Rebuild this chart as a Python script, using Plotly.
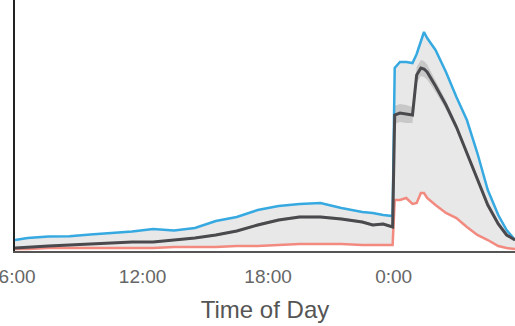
import plotly.graph_objects as go

# Time of day in hours (24+ = next day)
hours = [5.9, 6.5, 7.5, 8.5, 9.5, 10.5, 11.5, 12.5, 13.5, 14.5, 15.5, 16.5, 17.5,
         18.5, 19.5, 20.5, 21.5, 22.5, 23.0, 23.5, 23.95,
         24.05, 24.3, 24.6, 24.9, 25.1, 25.3, 25.45, 25.6, 26.0, 26.5, 27.0, 27.5,
         28.0, 28.5, 29.0, 29.4, 29.8]

upper = [0.55, 0.65, 0.72, 0.74, 0.82, 0.88, 0.97, 1.10, 1.02, 1.15, 1.50, 1.70, 2.05,
         2.25, 2.35, 2.40, 2.15, 1.95, 1.90, 1.80, 1.75,
         9.15, 9.45, 9.45, 9.40, 9.85, 10.55, 10.95, 10.65, 10.05, 8.95, 7.70, 6.55,
         4.90, 3.05, 1.80, 1.05, 0.55]

mean = [0.15, 0.20, 0.25, 0.30, 0.35, 0.40, 0.45, 0.45, 0.55, 0.65, 0.80, 1.00, 1.30,
        1.55, 1.70, 1.70, 1.60, 1.45, 1.30, 1.35, 1.20,
        6.80, 6.90, 6.85, 6.80, 8.80, 9.15, 9.10, 8.95, 8.25, 7.30, 6.20, 4.90,
        3.60, 2.30, 1.35, 0.80, 0.55]

lower = [0.10, 0.10, 0.15, 0.15, 0.15, 0.15, 0.15, 0.15, 0.20, 0.20, 0.20, 0.25, 0.25,
         0.30, 0.35, 0.35, 0.35, 0.30, 0.30, 0.30, 0.30,
         2.55, 2.55, 2.65, 2.35, 2.40, 2.90, 2.90, 2.65, 2.30, 1.90, 1.65, 1.20,
         0.80, 0.55, 0.25, 0.15, 0.10]

# half-width of the darker band around the mean
ci_half = [0.04, 0.04, 0.04, 0.04, 0.04, 0.04, 0.04, 0.05, 0.05, 0.05, 0.06, 0.06, 0.07,
           0.08, 0.08, 0.08, 0.08, 0.08, 0.08, 0.08, 0.08,
           0.45, 0.45, 0.45, 0.40, 0.40, 0.40, 0.40, 0.38, 0.30, 0.22, 0.18, 0.15,
           0.12, 0.10, 0.08, 0.05, 0.04]

tick_vals = [6, 12, 18, 24]
tick_text = ["6:00", "12:00", "18:00", "0:00"]

fig = go.Figure()
fig.add_trace(go.Scatter(x=hours, y=lower, mode="lines",
                         line=dict(color="rgba(0,0,0,0)", width=0), hoverinfo="skip"))
fig.add_trace(go.Scatter(x=hours, y=upper, mode="lines", fill="tonexty",
                         fillcolor="rgba(200,200,200,0.42)",
                         line=dict(color="rgba(0,0,0,0)", width=0), hoverinfo="skip"))
fig.add_trace(go.Scatter(x=hours, y=[m - c for m, c in zip(mean, ci_half)], mode="lines",
                         line=dict(color="rgba(0,0,0,0)", width=0), hoverinfo="skip"))
fig.add_trace(go.Scatter(x=hours, y=[m + c for m, c in zip(mean, ci_half)], mode="lines",
                         fill="tonexty", fillcolor="rgba(140,140,140,0.35)",
                         line=dict(color="rgba(0,0,0,0)", width=0), hoverinfo="skip"))
fig.add_trace(go.Scatter(x=hours, y=lower, mode="lines", line=dict(color="#f28a80", width=2.5)))
fig.add_trace(go.Scatter(x=hours, y=upper, mode="lines", line=dict(color="#36a9e1", width=2.5)))
fig.add_trace(go.Scatter(x=hours, y=mean, mode="lines", line=dict(color="#4a4a4e", width=3)))

fig.update_layout(
    width=515, height=326,
    margin=dict(l=15, r=0, t=0, b=75, pad=0, autoexpand=False),
    paper_bgcolor="white", plot_bgcolor="white",
    showlegend=False,
    font=dict(family="Liberation Sans", color="#555555"),
    xaxis=dict(range=[5.9, 29.8], tickvals=tick_vals, ticktext=tick_text,
               automargin=False, ticklabeloverflow="allow",
               showgrid=False, zeroline=False, showline=True, linecolor="#555555",
               linewidth=2, ticks="", tickfont=dict(size=19, color="#666666"),
               ticklabelstandoff=7,
               title=dict(text="Time of Day", font=dict(size=24, color="#555555"),
                          standoff=15)),
    yaxis=dict(range=[0, 12.55], automargin=False, showgrid=False, zeroline=False,
               showline=True, linecolor="#222222", linewidth=2,
               showticklabels=False, ticks=""),
)

fig.write_html("out.html", config={"displayModeBar": False},
               post_script="document.body.style.margin='0';")
